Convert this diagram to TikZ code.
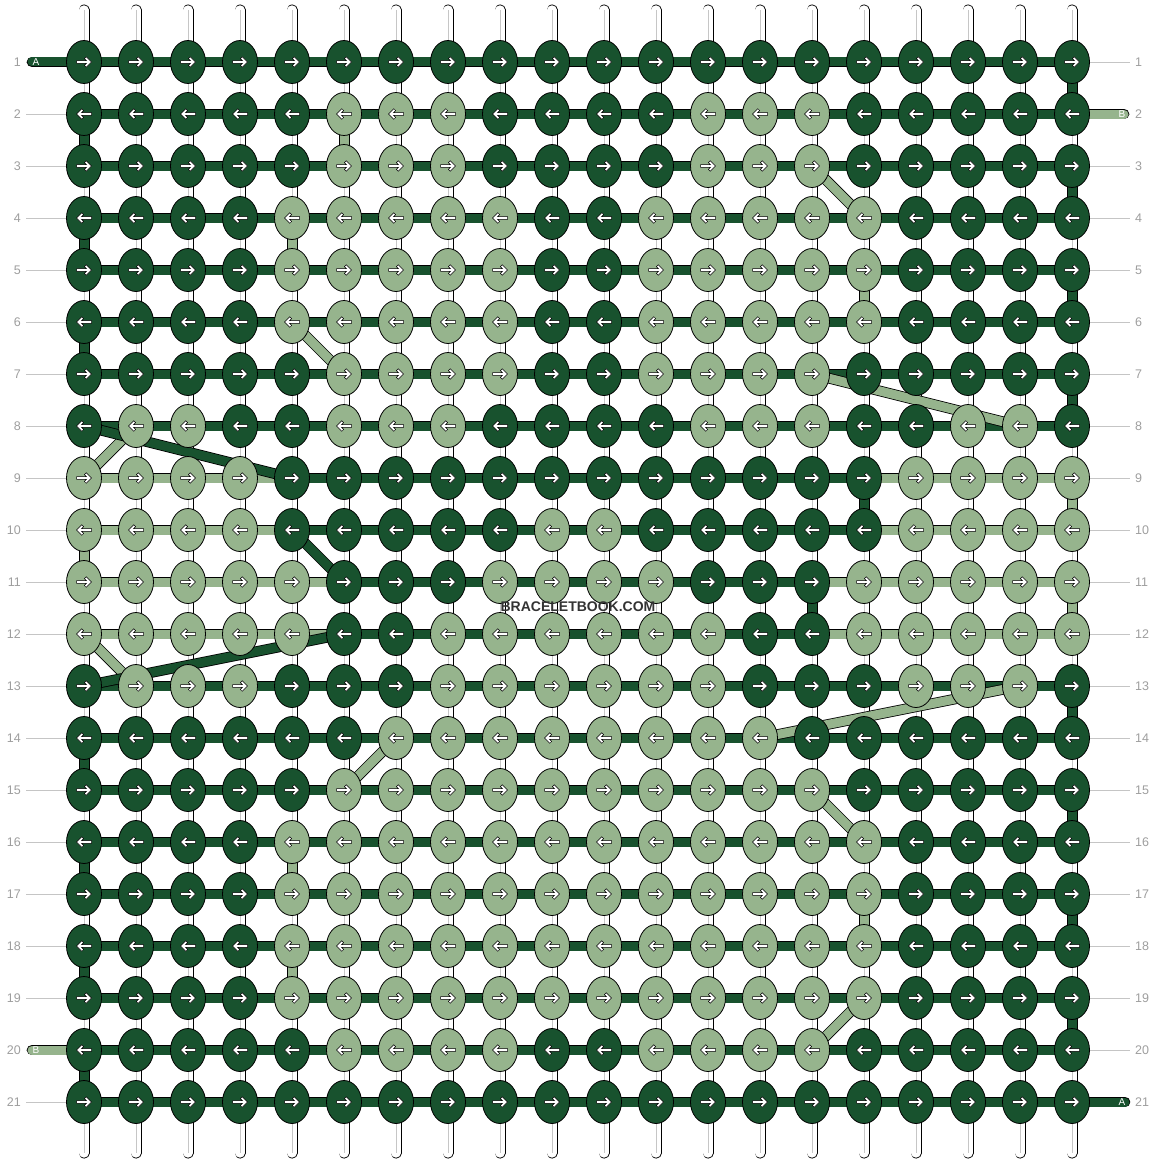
\documentclass[tikz,border=0pt]{standalone}
\usepackage{fontspec}
\setmainfont{Liberation Sans}
\usetikzlibrary{shapes.geometric, calc, arrows.meta, positioning}

\definecolor{A}{RGB}{24,82,46}
\definecolor{B}{RGB}{150,180,141}
\definecolor{rowgray}{RGB}{158,158,158}

\tikzset{
  knot/.style={ellipse, draw=black, line width=0.8, minimum width=35, minimum height=43, inner sep=0},
  thread/.style={draw=black, line width=0.8, double=#1, double distance=9},
  string/.style={draw=black, line width=0.8, double=white, double distance=9.4, line cap=round},
  rowlbl/.style={text=rowgray, font=\fontsize{12.5}{14}\selectfont, inner sep=2},
  rowline/.style={draw=rowgray!60, line width=0.9},
  taglbl/.style={text=white, font=\fontsize{10}{12}\selectfont, inner sep=0},
  wmark/.style={text=black!80, font=\bfseries\fontsize{14}{16}\selectfont, inner sep=0},
  rarrow/.pic={
    \filldraw[fill=white, draw=black, line width=0.5]
      (-7.5,1.3) -- (2.52,1.3) -- (0.36,3.46) -- (2.2,5.3) -- (7.5,0)
      -- (2.2,-5.3) -- (0.36,-3.46) -- (2.52,-1.3) -- (-7.5,-1.3) -- cycle;
  }
}

\begin{document}
\begin{tikzpicture}[x=1pt, y=-1pt]
        \useasboundingbox (0,0) rectangle (1156,1164);

        % Knot grid
        \foreach \r in {1,...,21}
          \foreach \c in {1,...,20}
            \coordinate (p-\r-\c) at ({84+52*(\c-1)}, {62+52*(\r-1)});

        % Row numbers and guide lines
        \foreach \r in {1,...,21} {
          \node[rowlbl, anchor=east] (lrow-\r) at (23, {62+52*(\r-1)}) {\r};
          \node[rowlbl, anchor=west] (rrow-\r) at (1133, {62+52*(\r-1)}) {\r};
          \draw[rowline, shorten <=3] (lrow-\r) -- (p-\r-1);
          \draw[rowline, shorten >=3] (p-\r-20) -- (rrow-\r);
        }

        % Vertical strings
        \foreach \c in {1,...,20} {
          \coordinate (top-\c) at ({84+52*(\c-1)}, 10);
          \coordinate (bot-\c) at ({84+52*(\c-1)}, 1153);
          \draw[string] (top-\c) -- (bot-\c);
          \draw[gray!45, line width=0.8] (top-\c) -- (bot-\c);
        }

        % Light thread (B) along each row
        \foreach \r/\bf/\bt in {2/6/20, 3/6/15, 4/5/16, 5/5/16, 6/5/16, 7/6/15, 8/2/19,
                                9/1/20, 10/1/20, 11/1/20, 12/1/20, 13/2/19, 14/7/14, 15/6/15,
                                16/5/16, 17/5/16, 18/5/16, 19/5/16, 20/1/15}
          \draw[thread=B] (p-\r-\bf) -- (p-\r-\bt);

        % Dark thread (A) along each row, on top
        \foreach \r/\af/\at in {1/1/20, 2/1/20, 3/1/20, 4/1/20, 5/1/20, 6/1/20, 7/1/20, 8/1/20,
                                9/5/16, 10/5/16, 11/6/15, 12/6/15, 13/1/20, 14/1/20, 15/1/20,
                                16/1/20, 17/1/20, 18/1/20, 19/1/20, 20/1/20, 21/1/20}
          \draw[thread=A] (p-\r-\af) -- (p-\r-\at);

        % Loose ends
        \coordinate (A-in) at (32,62);
        \coordinate (B-in) at (1124,114);
        \coordinate (B-out) at (32,1050);
        \coordinate (A-out) at (1125,1102);
        \draw[thread=A, line cap=round] (A-in) -- (p-1-1);
        \draw[thread=B, line cap=round] (p-2-20) -- (B-in);
        \draw[thread=B, line cap=round] (B-out) -- (p-20-1);
        \draw[thread=A, line cap=round] (p-21-20) -- (A-out);
        \node[taglbl] (A-in-lbl) at (36,62) {A};
        \node[taglbl] (B-in-lbl) at (1122,114) {B};
        \node[taglbl] (B-out-lbl) at (36,1050) {B};
        \node[taglbl] (A-out-lbl) at (1122,1102) {A};

        % Turns and jumps from one row to the next
        \foreach \t/\r/\a/\b in {B/2/6/6, B/3/15/16, B/4/5/5, B/5/16/16, B/6/5/6, B/7/15/19,
                                 B/8/2/1, B/9/20/20, B/10/1/1, B/11/20/20, B/12/1/2, B/13/19/14,
                                 B/14/7/6, B/15/15/16, B/16/5/5, B/17/16/16, B/18/5/5, B/19/16/15,
                                 A/1/20/20, A/2/1/1, A/3/20/20, A/4/1/1, A/5/20/20, A/6/1/1,
                                 A/7/20/20, A/8/1/5, A/9/16/16, A/10/5/6, A/11/15/15, A/12/6/1,
                                 A/13/20/20, A/14/1/1, A/15/20/20, A/16/1/1, A/17/20/20,
                                 A/18/1/1, A/19/20/20, A/20/1/1} {
          \pgfmathtruncatemacro\n{\r+1}
          \draw[thread=\t] (p-\r-\a) -- (p-\n-\b);
        }

        % Knots
        \foreach \r/\pat in {
            1/{A,A,A,A,A,A,A,A,A,A,A,A,A,A,A,A,A,A,A,A},
            2/{A,A,A,A,A,B,B,B,A,A,A,A,B,B,B,A,A,A,A,A},
            3/{A,A,A,A,A,B,B,B,A,A,A,A,B,B,B,A,A,A,A,A},
            4/{A,A,A,A,B,B,B,B,B,A,A,B,B,B,B,B,A,A,A,A},
            5/{A,A,A,A,B,B,B,B,B,A,A,B,B,B,B,B,A,A,A,A},
            6/{A,A,A,A,B,B,B,B,B,A,A,B,B,B,B,B,A,A,A,A},
            7/{A,A,A,A,A,B,B,B,B,A,A,B,B,B,B,A,A,A,A,A},
            8/{A,B,B,A,A,B,B,B,A,A,A,A,B,B,B,A,A,B,B,A},
            9/{B,B,B,B,A,A,A,A,A,A,A,A,A,A,A,A,B,B,B,B},
            10/{B,B,B,B,A,A,A,A,A,B,B,A,A,A,A,A,B,B,B,B},
            11/{B,B,B,B,B,A,A,A,B,B,B,B,A,A,A,B,B,B,B,B},
            12/{B,B,B,B,B,A,A,B,B,B,B,B,B,A,A,B,B,B,B,B},
            13/{A,B,B,B,A,A,A,B,B,B,B,B,B,A,A,A,B,B,B,A},
            14/{A,A,A,A,A,A,B,B,B,B,B,B,B,B,A,A,A,A,A,A},
            15/{A,A,A,A,A,B,B,B,B,B,B,B,B,B,B,A,A,A,A,A},
            16/{A,A,A,A,B,B,B,B,B,B,B,B,B,B,B,B,A,A,A,A},
            17/{A,A,A,A,B,B,B,B,B,B,B,B,B,B,B,B,A,A,A,A},
            18/{A,A,A,A,B,B,B,B,B,B,B,B,B,B,B,B,A,A,A,A},
            19/{A,A,A,A,B,B,B,B,B,B,B,B,B,B,B,B,A,A,A,A},
            20/{A,A,A,A,A,B,B,B,B,A,A,B,B,B,B,A,A,A,A,A},
            21/{A,A,A,A,A,A,A,A,A,A,A,A,A,A,A,A,A,A,A,A}} {
          \pgfmathsetmacro\s{isodd(\r) ? 1 : -1}
          \foreach \k [count=\c] in \pat {
            \node[knot, fill=\k] (k-\r-\c) at (p-\r-\c) {};
            \pic[xscale=\s] at (k-\r-\c) {rarrow};
          }
        }

        % Watermark
        \node[wmark] (wmark) at (578,607) {BRACELETBOOK.COM};
\end{tikzpicture}
\end{document}
